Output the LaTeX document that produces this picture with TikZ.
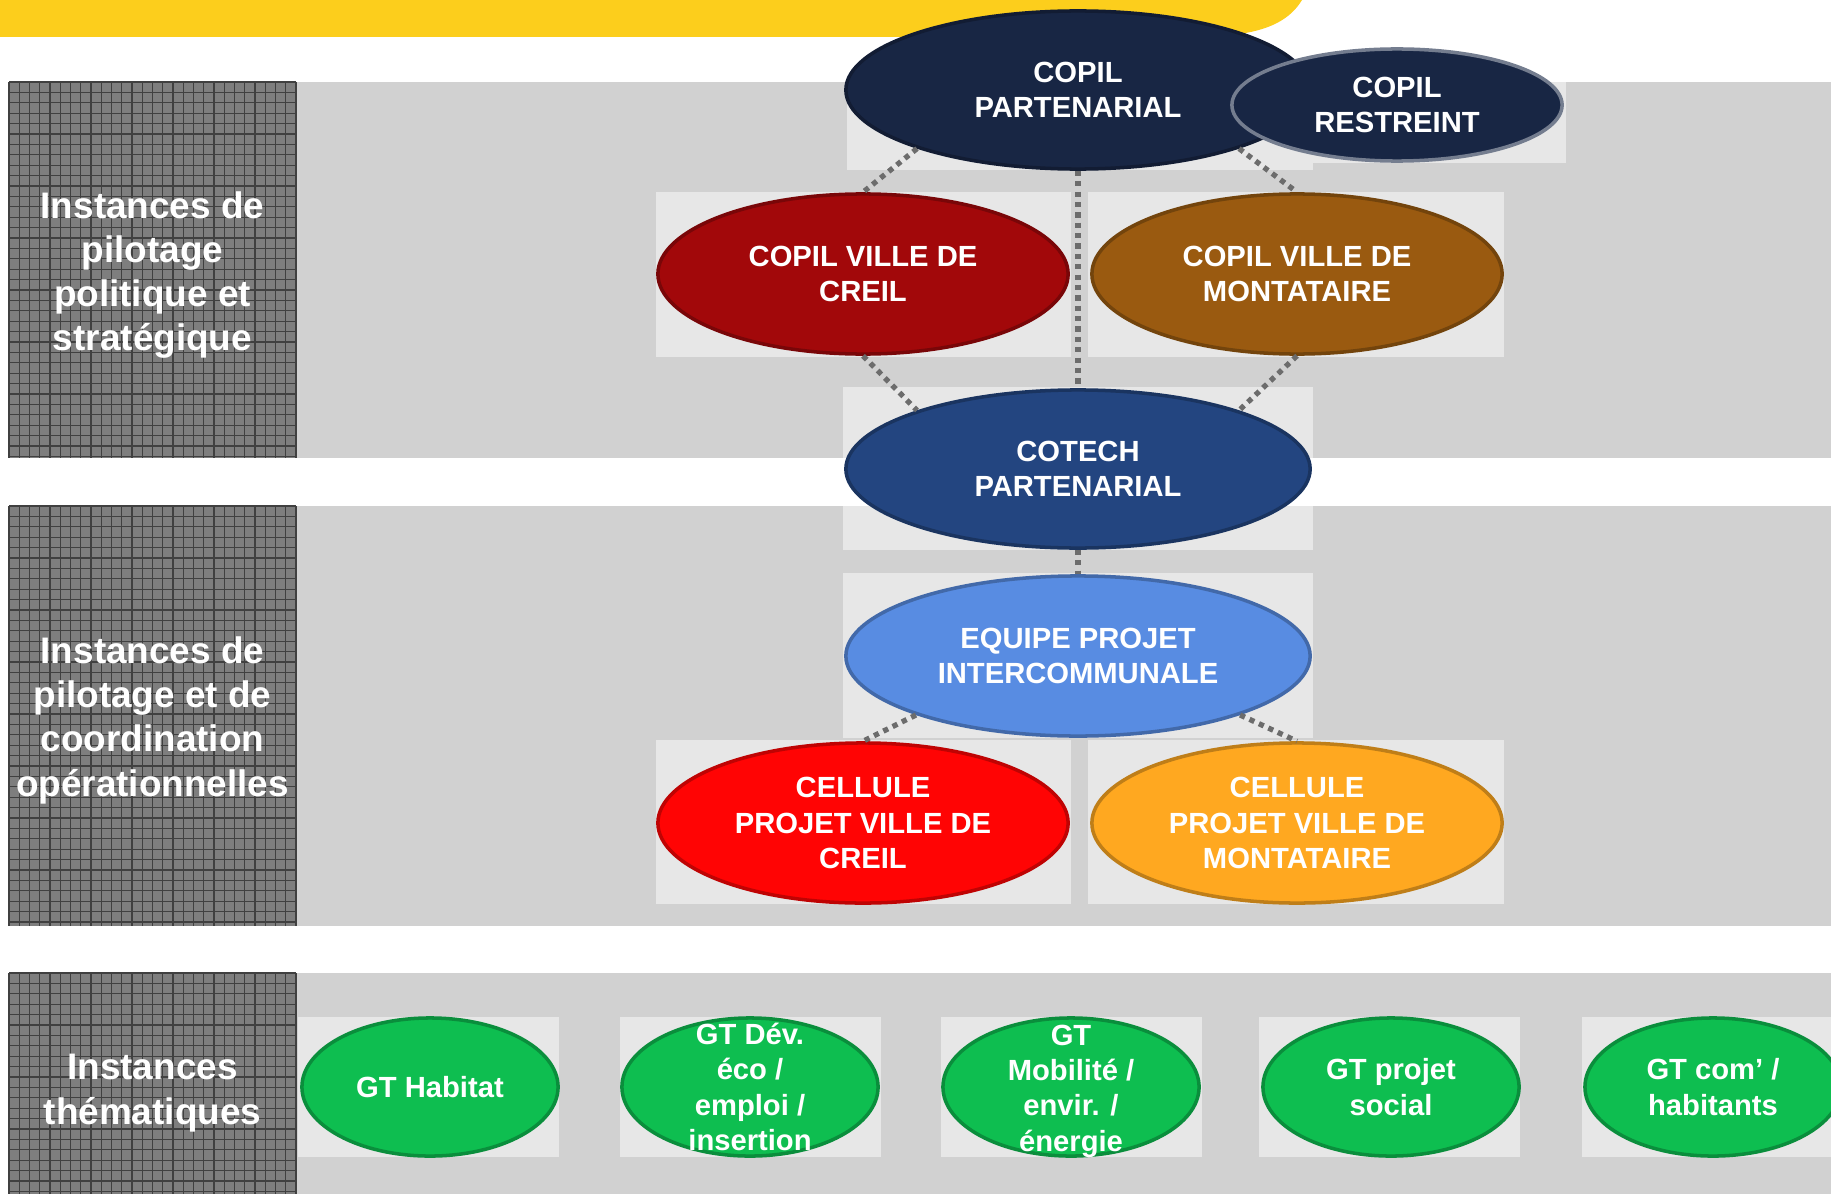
\documentclass[tikz,border=0pt]{standalone}
\usepackage{fontspec}
\setmainfont{Liberation Sans}
\usetikzlibrary{shapes.geometric}

\definecolor{topyellow}{RGB}{252,206,28}
\definecolor{bandgray}{RGB}{209,209,209}
\definecolor{backgray}{RGB}{231,231,231}
\definecolor{boxgray}{RGB}{126,126,126}
\definecolor{copilnavy}{RGB}{24,38,68}
\definecolor{creilred}{RGB}{162,8,10}
\definecolor{montbrown}{RGB}{154,90,16}
\definecolor{cotechblue}{RGB}{35,69,128}
\definecolor{equipeblue}{RGB}{88,140,226}
\definecolor{cellred}{RGB}{255,4,4}
\definecolor{cellorange}{RGB}{255,168,32}
\definecolor{gtgreen}{RGB}{14,190,80}

\tikzset{
  instance/.style={ellipse, fill=#1, draw=#1!75!black, line width=1pt,
    text=white, align=center, inner sep=0pt,
    font=\bfseries\fontsize{8.3}{10}\selectfont},
  wideinst/.style={instance=#1, minimum width=4.64cm, minimum height=1.58cm},
  cityinst/.style={instance=#1, minimum width=4.10cm, minimum height=1.60cm},
  gtinst/.style={instance=gtgreen, minimum width=2.56cm, minimum height=1.38cm},
  gtlabel/.style={text=white, align=center, inner sep=0pt,
    font=\bfseries\fontsize{8.3}{10}\selectfont},
  levellabel/.style={text=white, align=center, inner sep=0pt,
    font=\bfseries\fontsize{10.5}{12.6}\selectfont},
  dotlink/.style={draw=gray!85!black, line width=1.5pt, dash pattern=on 1.5pt off 1.45pt},
  gridline/.style={black!75, line width=0.3pt}
}

\begin{document}
\begin{tikzpicture}[x=0.01cm, y=-0.01cm]
  \useasboundingbox (0,0) rectangle (1831,1194);

  % yellow title band
  \fill[topyellow] (0,0) -- (1302,0) .. controls (1285,28) and (1250,37) .. (1190,37) -- (0,37) -- cycle;

  % the three level bands
  \fill[bandgray] (296,82) rectangle (1831,458);
  \fill[bandgray] (296,506) rectangle (1831,926);
  \fill[bandgray] (296,973) rectangle (1831,1194);

  % grey label boxes with their grid
  \fill[boxgray] (9,82) rectangle (296,458);
  \fill[boxgray] (9,506) rectangle (296,926);
  \fill[boxgray] (9,973) rectangle (296,1194);
  \foreach \x in {9,19.25,...,297} {
    \draw[gridline] (\x,82) -- (\x,458);
    \draw[gridline] (\x,506) -- (\x,926);
    \draw[gridline] (\x,973) -- (\x,1194);
  }
  \foreach \y in {82,92.4,...,459} \draw[gridline] (9,\y) -- (296,\y);
  \foreach \y in {506,516.4,...,927} \draw[gridline] (9,\y) -- (296,\y);
  \foreach \y in {973,983.4,...,1194} \draw[gridline] (9,\y) -- (296,\y);

  % light backdrops behind the ellipses
  \fill[backgray] (847,82) rectangle (1313,170);
  \fill[backgray] (1228,82) rectangle (1566,163);
  \fill[backgray] (656,192) rectangle (1071,357);
  \fill[backgray] (1088,192) rectangle (1504,357);
  \fill[backgray] (843,387) rectangle (1313,458);
  \fill[backgray] (843,506) rectangle (1313,550);
  \fill[backgray] (843,573) rectangle (1313,738);
  \fill[backgray] (656,740) rectangle (1071,904);
  \fill[backgray] (1088,740) rectangle (1504,904);
  \foreach \x in {298,620,941,1259,1582}
    \fill[backgray] (\x,1017) rectangle ++(261,140);

  % level labels
  \node[levellabel] (lvlpol) at (152.5,275) {Instances de\\pilotage\\politique et\\stratégique};
  \node[levellabel] (lvlop) at (152.5,720) {Instances de\\pilotage et de\\coordination\\opérationnelles};
  \node[levellabel] (lvlthem) at (152.5,1093) {Instances\\thématiques};

  % political level
  \node[wideinst=copilnavy] (copilpart) at (1078,90) {COPIL\\PARTENARIAL};
  \node[instance=copilnavy, draw=white!40!copilnavy, minimum width=3.30cm, minimum height=1.12cm]
    (copilrest) at (1397,105) {COPIL\\RESTREINT};
  \node[cityinst=creilred] (copilcreil) at (863,274) {COPIL VILLE DE\\CREIL};
  \node[cityinst=montbrown] (copilmont) at (1297,274) {COPIL VILLE DE\\MONTATAIRE};
  \node[wideinst=cotechblue] (cotech) at (1078,469) {COTECH\\PARTENARIAL};

  % operational level
  \node[wideinst=equipeblue, minimum height=1.60cm] (equipe) at (1078,656) {EQUIPE PROJET\\INTERCOMMUNALE};
  \node[cityinst=cellred] (cellcreil) at (863,823) {CELLULE\\PROJET VILLE DE\\CREIL};
  \node[cityinst=cellorange] (cellmont) at (1297,823) {CELLULE\\PROJET VILLE DE\\MONTATAIRE};

  % thematic groups
  \node[gtinst, label={[gtlabel]center:GT Habitat}] (gthab) at (430,1087) {};
  \node[gtinst, label={[gtlabel]center:GT Dév.\\éco /\\emploi /\\insertion}] (gtdev) at (750,1087) {};
  \node[gtinst, label={[gtlabel, yshift=-1.2pt]center:GT\\Mobilité /\\envir. /\\énergie}] (gtmob) at (1071,1087) {};
  \node[gtinst, label={[gtlabel]center:GT projet\\social}] (gtsoc) at (1391,1087) {};
  \node[gtinst, label={[gtlabel]center:GT com’ /\\habitants}] (gtcom) at (1713,1087) {};

  % dotted links
  \draw[dotlink] (copilpart.-160) -- (copilcreil.north);
  \draw[dotlink] (copilpart.-20) -- (copilmont.north);
  \draw[dotlink] (copilpart.south) -- (cotech.north);
  \draw[dotlink] (copilcreil.south) -- (cotech.160);
  \draw[dotlink] (copilmont.south) -- (cotech.20);
  \draw[dotlink] (cotech.south) -- (equipe.north);
  \draw[dotlink] (equipe.-160) -- (cellcreil.north);
  \draw[dotlink] (equipe.-20) -- (cellmont.north);
\end{tikzpicture}
\end{document}
